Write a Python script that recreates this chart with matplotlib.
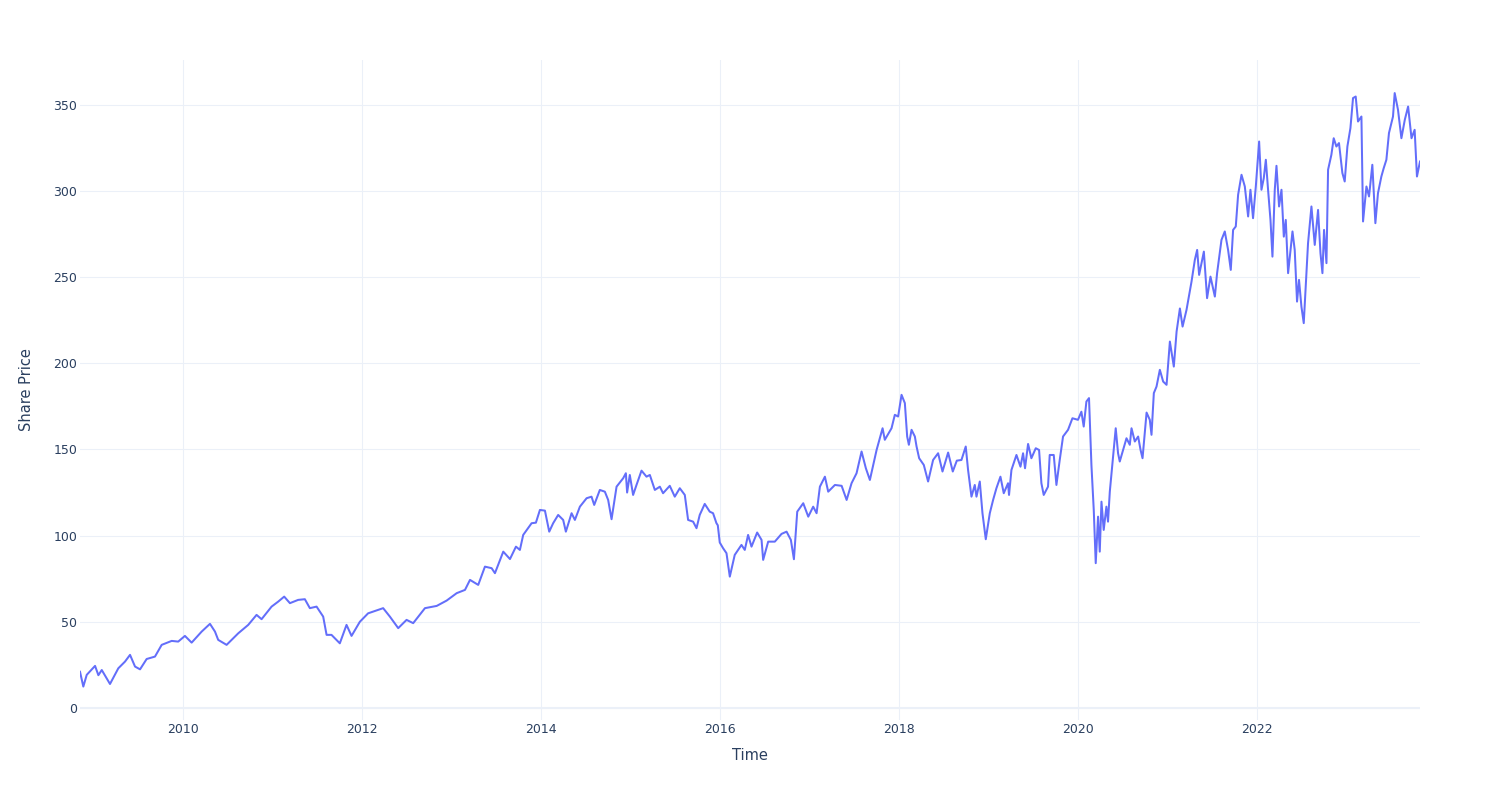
import matplotlib
matplotlib.use("Agg")
import matplotlib.pyplot as plt
import matplotlib.dates as mdates
import pandas as pd

# Decimal-year time stamps and share prices
time_years = [
    2008.849, 2008.886, 2008.924, 2009.017, 2009.054, 2009.092, 2009.184, 2009.277, 2009.352, 2009.408,
    2009.464, 2009.520, 2009.594, 2009.687, 2009.762, 2009.874, 2009.947, 2010.022, 2010.097, 2010.209,
    2010.302, 2010.358, 2010.394, 2010.488, 2010.544, 2010.618, 2010.730, 2010.823, 2010.879, 2010.991,
    2011.065, 2011.132, 2011.196, 2011.288, 2011.363, 2011.419, 2011.494, 2011.568, 2011.606, 2011.661,
    2011.754, 2011.829, 2011.885, 2011.978, 2012.070, 2012.182, 2012.238, 2012.313, 2012.406, 2012.499,
    2012.573, 2012.704, 2012.835, 2012.946, 2013.058, 2013.151, 2013.207, 2013.299, 2013.374, 2013.449,
    2013.486, 2013.579, 2013.654, 2013.721, 2013.765, 2013.802, 2013.896, 2013.944, 2013.989, 2014.045,
    2014.093, 2014.137, 2014.193, 2014.249, 2014.279, 2014.343, 2014.380, 2014.436, 2014.511, 2014.566,
    2014.596, 2014.659, 2014.715, 2014.752, 2014.790, 2014.846, 2014.920, 2014.950, 2014.964, 2014.994,
    2015.031, 2015.069, 2015.125, 2015.181, 2015.218, 2015.274, 2015.330, 2015.366, 2015.441, 2015.497,
    2015.553, 2015.609, 2015.646, 2015.702, 2015.740, 2015.776, 2015.832, 2015.888, 2015.925, 2015.963,
    2015.978, 2016.000, 2016.037, 2016.075, 2016.112, 2016.167, 2016.242, 2016.279, 2016.316, 2016.354,
    2016.417, 2016.466, 2016.484, 2016.540, 2016.614, 2016.689, 2016.745, 2016.793, 2016.827, 2016.864,
    2016.931, 2016.987, 2017.042, 2017.080, 2017.117, 2017.173, 2017.210, 2017.285, 2017.360, 2017.416,
    2017.471, 2017.527, 2017.583, 2017.631, 2017.676, 2017.713, 2017.751, 2017.818, 2017.843, 2017.918,
    2017.955, 2017.992, 2018.030, 2018.067, 2018.093, 2018.112, 2018.142, 2018.179, 2018.198, 2018.227,
    2018.279, 2018.327, 2018.383, 2018.439, 2018.488, 2018.551, 2018.603, 2018.648, 2018.700, 2018.748,
    2018.774, 2018.812, 2018.849, 2018.868, 2018.905, 2018.935, 2018.972, 2019.017, 2019.054, 2019.091,
    2019.136, 2019.173, 2019.221, 2019.232, 2019.259, 2019.315, 2019.360, 2019.389, 2019.411, 2019.445,
    2019.482, 2019.531, 2019.568, 2019.594, 2019.620, 2019.668, 2019.687, 2019.732, 2019.762, 2019.799,
    2019.836, 2019.892, 2019.941, 2020.003, 2020.041, 2020.067, 2020.097, 2020.126, 2020.153, 2020.179,
    2020.201, 2020.227, 2020.246, 2020.265, 2020.290, 2020.320, 2020.338, 2020.358, 2020.394, 2020.424,
    2020.450, 2020.469, 2020.506, 2020.544, 2020.581, 2020.600, 2020.637, 2020.674, 2020.701, 2020.723,
    2020.768, 2020.804, 2020.823, 2020.849, 2020.879, 2020.916, 2020.953, 2020.991, 2021.028, 2021.072,
    2021.103, 2021.140, 2021.170, 2021.214, 2021.270, 2021.307, 2021.333, 2021.355, 2021.408, 2021.444,
    2021.482, 2021.531, 2021.556, 2021.605, 2021.642, 2021.679, 2021.709, 2021.735, 2021.765, 2021.791,
    2021.829, 2021.866, 2021.903, 2021.929, 2021.958, 2021.989, 2022.026, 2022.052, 2022.078, 2022.101,
    2022.126, 2022.153, 2022.175, 2022.201, 2022.220, 2022.249, 2022.276, 2022.302, 2022.324, 2022.350,
    2022.399, 2022.424, 2022.450, 2022.472, 2022.499, 2022.525, 2022.547, 2022.573, 2022.611, 2022.648,
    2022.685, 2022.712, 2022.734, 2022.752, 2022.779, 2022.797, 2022.834, 2022.860, 2022.890, 2022.919,
    2022.957, 2022.983, 2023.013, 2023.047, 2023.076, 2023.106, 2023.132, 2023.170, 2023.188, 2023.226,
    2023.255, 2023.292, 2023.326, 2023.355, 2023.393, 2023.419, 2023.449, 2023.478, 2023.523, 2023.542,
    2023.579, 2023.617, 2023.655, 2023.692, 2023.730, 2023.765, 2023.791, 2023.825,
]

share_price = [
    21.0, 12.4, 19.2, 24.4, 19.0, 22.0, 13.9, 23.0, 26.9, 30.8,
    24.0, 22.4, 28.4, 29.8, 36.6, 38.9, 38.5, 41.8, 37.9, 44.3,
    48.8, 44.3, 39.5, 36.6, 39.5, 43.3, 48.2, 54.0, 51.5, 58.8,
    61.7, 64.6, 60.8, 62.7, 63.1, 57.9, 58.8, 53.0, 42.4, 42.4,
    37.5, 48.2, 41.8, 50.0, 54.9, 56.9, 57.9, 53.0, 46.3, 51.1,
    49.2, 57.9, 59.2, 62.3, 66.6, 68.5, 74.3, 71.4, 82.0, 81.1,
    78.2, 90.7, 86.4, 93.6, 91.7, 100.4, 107.2, 107.5, 114.9, 114.5,
    102.3, 107.2, 112.0, 109.1, 102.3, 113.0, 109.1, 116.8, 121.7, 122.6,
    117.8, 126.5, 125.5, 120.7, 109.5, 128.4, 133.3, 136.2, 125.0, 135.2,
    123.6, 129.4, 137.7, 134.2, 135.2, 126.5, 128.4, 124.6, 128.9, 122.6,
    127.5, 123.6, 109.1, 108.1, 104.3, 112.0, 118.4, 113.9, 113.0, 107.2,
    106.0, 96.0, 92.7, 89.8, 76.2, 88.8, 94.6, 91.7, 100.4, 93.6,
    101.8, 97.5, 85.9, 96.5, 96.5, 101.0, 102.3, 97.5, 86.3, 113.9,
    118.8, 111.0, 116.8, 113.0, 128.4, 134.2, 125.5, 129.4, 128.9, 120.7,
    130.4, 136.2, 148.8, 139.1, 132.3, 141.0, 149.7, 162.3, 155.6, 162.3,
    170.1, 169.1, 181.7, 176.9, 157.5, 152.7, 161.4, 157.5, 151.7, 144.9,
    141.0, 131.4, 143.9, 147.8, 137.2, 148.2, 137.2, 143.5, 143.9, 151.7,
    138.1, 122.6, 129.4, 122.6, 131.4, 113.0, 97.9, 113.0, 120.7, 127.5,
    134.2, 124.6, 130.4, 123.6, 138.1, 146.8, 140.0, 147.8, 139.1, 153.2,
    144.9, 150.7, 149.7, 130.4, 123.6, 128.4, 146.8, 146.8, 129.4, 143.9,
    157.5, 161.4, 168.1, 167.2, 171.9, 163.3, 177.8, 179.8, 141.0, 114.9,
    84.0, 111.0, 90.7, 119.7, 103.3, 116.8, 108.1, 125.5, 145.9, 162.3,
    147.8, 143.0, 149.7, 156.5, 152.7, 162.3, 154.6, 157.5, 149.7, 144.9,
    171.4, 167.2, 158.5, 182.7, 186.5, 196.2, 189.4, 187.5, 212.6, 198.1,
    218.4, 231.8, 221.3, 231.0, 247.4, 260.0, 265.8, 251.3, 264.8, 237.8,
    250.3, 238.7, 252.3, 271.6, 276.5, 265.8, 254.2, 277.4, 279.4, 297.8,
    309.4, 302.6, 285.2, 300.7, 284.2, 302.6, 328.7, 300.7, 307.4, 318.1,
    300.7, 283.2, 261.9, 300.7, 314.6, 291.0, 300.7, 273.5, 283.2, 252.3,
    276.5, 265.8, 235.8, 248.4, 232.9, 223.3, 244.6, 269.7, 291.0, 268.7,
    289.0, 263.9, 252.3, 277.4, 258.1, 312.3, 321.0, 330.6, 325.8, 327.8,
    310.4, 305.5, 325.8, 336.5, 353.9, 354.8, 340.3, 343.2, 282.3, 302.6,
    296.8, 315.2, 281.3, 298.7, 308.4, 313.2, 318.1, 333.6, 343.2, 356.8,
    347.1, 330.6, 341.3, 349.0, 330.6, 335.5, 308.4, 317.1,
]

y_ticks = [0, 50, 100, 150, 200, 250, 300, 350]
x_label = "Time"
y_label = "Share Price"


def to_datetime(t):
    year = int(t)
    start = pd.Timestamp(year=year, month=1, day=1)
    end = pd.Timestamp(year=year + 1, month=1, day=1)
    return start + (end - start) * (t - year)


dates = [to_datetime(t) for t in time_years]

TEXT = "#2a3f5f"
GRID = "#EBF0F8"
LINE = "#636EFA"

plt.rcParams["font.family"] = ["DejaVu Sans"]

fig = plt.figure(figsize=(15, 8), dpi=100)
fig.patch.set_facecolor("white")
ax = fig.add_axes([80 / 1500, 80 / 800, 1340 / 1500, 660 / 800])
ax.set_facecolor("white")

ax.plot(dates, share_price, color=LINE, linewidth=1.45, zorder=3)

ax.set_xlim(dates[0], dates[-1])
ax.set_ylim(-7, 376)

ax.set_yticks(y_ticks)
ax.xaxis.set_major_locator(mdates.YearLocator(2))
ax.xaxis.set_major_formatter(mdates.DateFormatter("%Y"))

ax.grid(True, color=GRID, linewidth=0.75, zorder=0)
ax.axhline(0, color=GRID, linewidth=1.5, zorder=1)
for s in ax.spines.values():
    s.set_visible(False)

ax.tick_params(axis="both", length=0, labelsize=9, labelcolor=TEXT)
ax.tick_params(axis="x", pad=2)
ax.tick_params(axis="y", pad=2)

fig.text(750 / 1500, 1 - 756 / 800, x_label, ha="center", va="center",
         fontsize=10.5, color=TEXT)
fig.text(27 / 1500, 1 - 390 / 800, y_label, ha="center", va="center",
         rotation=90, fontsize=10.5, color=TEXT)

fig.savefig("out.png", dpi=100, facecolor="white")
